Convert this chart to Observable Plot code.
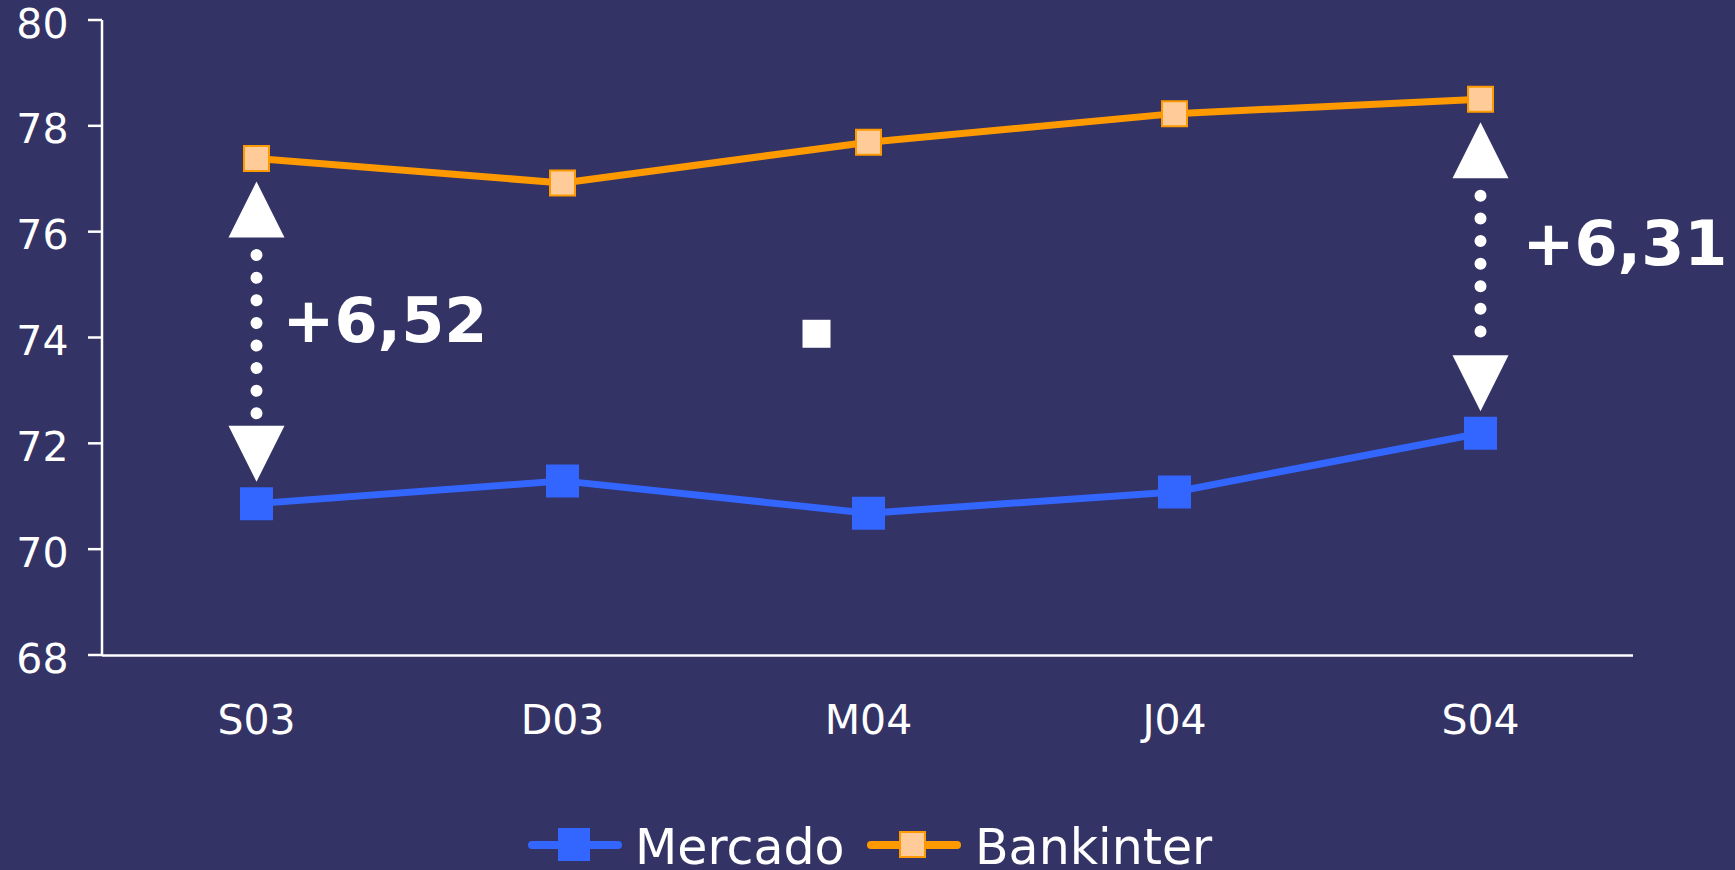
<!DOCTYPE html>
<html><head><meta charset="utf-8">
<script src="https://cdn.jsdelivr.net/npm/d3@7"></script>
<script src="https://cdn.jsdelivr.net/npm/@observablehq/plot@0.6"></script>
<style>
html,body{margin:0;padding:0;background:#333366;overflow:hidden;}
#chart svg{display:block;}
</style></head><body><div id="chart"></div>
<script>
// ---- data ----
const periods = ["S03", "D03", "M04", "J04", "S04"];
const mercado = [70.87, 71.30, 70.69, 71.09, 72.20];
const bankinter = [77.39, 76.93, 77.70, 78.24, 78.51];
const yTicks = [68, 70, 72, 74, 76, 78, 80];
const seriesNames = ["Mercado", "Bankinter"];
const gapPeriods = ["S03", "S04"];
const gapLabels = ["+6,52", "+6,31"];
const strayPeriods = ["M04"];
const strayValues = [74.08];

// ---- derived tables ----
const mercadoRows = periods.map((p, i) => ({period: p, value: mercado[i]}));
const bankRows = periods.map((p, i) => ({period: p, value: bankinter[i]}));
const gaps = gapPeriods.map((p, k) => {
  const i = periods.indexOf(p);
  return {period: p, hi: bankinter[i], lo: mercado[i], label: gapLabels[k]};
});
const stray = strayPeriods.map((p, i) => ({period: p, value: strayValues[i]}));

const BG = "#333366", BLUE = "#3366FF", ORANGE = "#FF9900", PEACH = "#FFCC99";
const isoTriangle = {draw(ctx, size) {
  const s = Math.sqrt(size);
  ctx.moveTo(0, -s / 2); ctx.lineTo(s / 2, s / 2); ctx.lineTo(-s / 2, s / 2); ctx.closePath();
}};
const sq = side => side / Math.sqrt(Math.PI);

const W = 1735, H = 780;
const plot = Plot.plot({
  width: W, height: H,
  marginLeft: 102, marginRight: 102, marginTop: 20, marginBottom: 125,
  style: {background: BG, color: "white", fontFamily: "DejaVu Sans, sans-serif", overflow: "visible"},
  x: {type: "point", domain: periods, padding: 0.5, label: null},
  y: {domain: [68, 80], label: null},
  marks: [
    // axes: y tick labels (text only), x labels
    Plot.axisY({ticks: yTicks, tickSize: 0, tickPadding: 34, fill: "white", fontSize: 41, dy: 4,
      label: null, tickFormat: d => String(d)}),
    Plot.axisX({tickSize: 0, tickPadding: 49, fill: "white", fontSize: 41, label: null}),
    Plot.ruleY([68], {stroke: "white", strokeWidth: 2.5}),
    // y axis line + tick marks, through the y scale
    (index, scales, values, dims) => {
      const g = d3.create("svg:g").attr("stroke", "white").attr("stroke-width", 2.5);
      g.append("line")
        .attr("x1", dims.marginLeft).attr("x2", dims.marginLeft)
        .attr("y1", dims.marginTop).attr("y2", dims.height - dims.marginBottom);
      for (const t of yTicks) {
        g.append("line").attr("x1", dims.marginLeft - 14).attr("x2", dims.marginLeft)
          .attr("y1", scales.y(t)).attr("y2", scales.y(t));
      }
      return g.node();
    },
    // series lines
    Plot.line(mercadoRows, {x: "period", y: "value", stroke: BLUE, strokeWidth: 7}),
    Plot.line(bankRows, {x: "period", y: "value", stroke: ORANGE, strokeWidth: 7}),
    // gap annotations: dotted connectors + arrowheads + labels
    Plot.ruleX(gaps, {x: "period", y1: "hi", y2: "lo", stroke: "white", strokeWidth: 12,
      strokeLinecap: "round", strokeDasharray: "0 22.6", insetTop: 97, insetBottom: 86}),
    Plot.dot(gaps, {x: "period", y: "hi", symbol: isoTriangle, r: sq(56), fill: "white", stroke: "none", dy: 51}),
    Plot.dot(gaps, {x: "period", y: "lo", symbol: isoTriangle, r: sq(56), rotate: 180, fill: "white", stroke: "none", dy: -50}),
    Plot.text(gaps.slice(0, 1), {x: "period", y: d => (d.hi + d.lo) / 2, text: "label", textAnchor: "start",
      dx: 26, dy: -9, fill: "white", fontSize: 62, fontWeight: "bold"}),
    Plot.text(gaps.slice(1), {x: "period", y: d => (d.hi + d.lo) / 2, text: "label", textAnchor: "start",
      dx: 42, dy: -21, fill: "white", fontSize: 62, fontWeight: "bold"}),
    // series markers
    Plot.dot(mercadoRows, {x: "period", y: "value", symbol: "square", r: sq(33), fill: BLUE, stroke: "none"}),
    Plot.dot(bankRows, {x: "period", y: "value", symbol: "square", r: sq(25), fill: PEACH, stroke: ORANGE, strokeWidth: 2}),
    // stray white marker
    Plot.dot(stray, {x: "period", y: "value", symbol: "square", r: sq(28), fill: "white", stroke: "none", dx: -52})
  ]
});
document.getElementById("chart").appendChild(plot);

// ---- legend below ----
const lg = d3.select("#chart").append("svg").attr("width", W).attr("height", 90)
  .style("display", "block").style("background", BG);
const items = [
  {name: seriesNames[0], color: BLUE, fill: BLUE, stroke: "none", x0: 532, x1: 618, sx: 558, sw: 32, sy: 48, sh: 33, tx: 635},
  {name: seriesNames[1], color: ORANGE, fill: PEACH, stroke: ORANGE, x0: 871, x1: 957, sx: 900, sw: 25, sy: 52, sh: 25, tx: 975}
];
for (const it of items) {
  lg.append("line").attr("x1", it.x0).attr("x2", it.x1).attr("y1", 65).attr("y2", 65)
    .attr("stroke", it.color).attr("stroke-width", 8).attr("stroke-linecap", "round");
  lg.append("rect").attr("x", it.sx).attr("y", it.sy).attr("width", it.sw).attr("height", it.sh)
    .attr("fill", it.fill).attr("stroke", it.stroke).attr("stroke-width", 2);
  lg.append("text").attr("x", it.tx).attr("y", 84).attr("fill", "white")
    .attr("font-family", "DejaVu Sans, sans-serif").attr("font-size", 49).text(it.name);
}
</script></body></html>
